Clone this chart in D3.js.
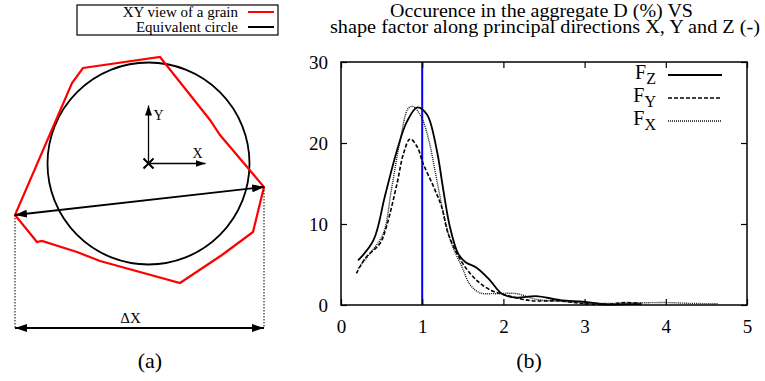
<!DOCTYPE html>
<html><head><meta charset="utf-8">
<script src="https://cdn.jsdelivr.net/npm/d3@7/dist/d3.min.js"></script>
<style>
html,body{margin:0;padding:0;background:#fff;}
svg{display:block;}
</style></head>
<body>
<svg id="c" width="765" height="381"></svg>
<script>
// ---------- Panel (b) data ----------
const xTicks = [0, 1, 2, 3, 4, 5];
const yTicks = [0, 10, 20, 30];
const titleLines = ["Occurence in the aggregate D (%) VS", "shape factor along principal directions X, Y and Z (-)"];
const seriesNames = ["Z", "Y", "X"];

const fzX = [0.21, 0.40, 0.54, 0.69, 0.81, 0.94, 1.06, 1.18, 1.26, 1.34, 1.44, 1.53, 1.67, 1.83, 1.98, 2.16, 2.40, 2.70, 2.98, 3.19, 3.31, 3.50, 3.70];
const fzY = [5.5, 8.0, 13.4, 19.1, 22.6, 24.4, 23.5, 19.1, 14.2, 9.7, 6.4, 5.3, 4.6, 3.1, 1.4, 0.9, 1.1, 0.6, 0.4, 0.15, 0.05, 0.1, 0.1];

const fyX = [0.19, 0.30, 0.48, 0.56, 0.69, 0.77, 0.85, 0.94, 1.01, 1.14, 1.24, 1.32, 1.47, 1.59, 1.71, 1.85, 2.00, 2.33, 2.70, 3.00, 3.30, 3.50, 3.70];
const fyY = [3.9, 5.8, 7.6, 9.7, 15.0, 18.7, 20.5, 19.5, 17.5, 14.6, 12.1, 8.8, 5.6, 3.9, 2.7, 1.8, 1.3, 0.55, 0.5, 0.15, 0.1, 0.3, 0.2];

const fxX = [0.21, 0.36, 0.52, 0.62, 0.73, 0.83, 0.89, 0.99, 1.08, 1.18, 1.28, 1.36, 1.49, 1.59, 1.71, 1.88, 2.16, 2.41, 2.80, 3.20, 3.60, 4.00, 4.30, 4.64];
const fxY = [4.5, 6.4, 8.8, 14.2, 20.4, 24.3, 24.5, 23.2, 20.4, 15.4, 10.5, 7.6, 4.7, 2.5, 1.5, 1.4, 1.4, 0.7, 0.4, 0.2, 0.25, 0.3, 0.2, 0.15];

const refLineX = [1];

// ---------- Panel (a) data (grain outline, units relative to circle centre, y up) ----------
const grainX = [-65.5, 11.5, 61.5, 71.5, 115.5, 104.5, 73.5, 31.5, -48.5, -71.5, -106.5, -111.5, -133.5, -76.5];
const grainY = [95.5, 106.5, 43.5, 28.5, -23.5, -68.5, -91.5, -119.5, -97.5, -88.5, -77.5, -78.5, -51.5, 80.5];
const circleR = [101];
const legendA = ["XY view of a grain", "Equivalent circle"];

const FONT = '"Liberation Serif"';
const svg = d3.select("#c");

// ---------- Panel (b) ----------
const x = d3.scaleLinear().domain([0, 5]).range([341, 747]);
const y = d3.scaleLinear().domain([0, 30]).range([305, 62]);

const gb = svg.append("g");
gb.selectAll("line.ref").data(refLineX).enter().append("line")
  .attr("x1", d => x(d)).attr("x2", d => x(d))
  .attr("y1", y(0)).attr("y2", y(30))
  .attr("stroke", "#0000ff").attr("stroke-width", 2);

const line = d3.line().x(d => x(d[0])).y(d => y(d[1])).curve(d3.curveCatmullRom.alpha(0.5));
const series = [
  {xs: fzX, ys: fzY, dash: null, w: 1.8, col: "#000"},
  {xs: fyX, ys: fyY, dash: "4,2", w: 1.6, col: "#000"},
  {xs: fxX, ys: fxY, dash: "1,1", w: 1.4, col: "#111"}
];
series.forEach(s => {
  gb.append("path").datum(d3.zip(s.xs, s.ys))
    .attr("d", line).attr("fill", "none")
    .attr("stroke", s.col).attr("stroke-width", s.w)
    .attr("stroke-dasharray", s.dash);
});

gb.append("rect").attr("x", x(0)).attr("y", y(30))
  .attr("width", x(5) - x(0)).attr("height", y(0) - y(30))
  .attr("fill", "none").attr("stroke", "#000").attr("stroke-width", 1.5);

const axB = d3.axisBottom(x).tickValues(xTicks).tickSize(-6).tickPadding(15).tickFormat(d3.format("d"));
const axT = d3.axisTop(x).tickValues(xTicks).tickSize(-6).tickFormat("");
const axL = d3.axisLeft(y).tickValues(yTicks).tickSize(-6).tickPadding(13).tickFormat(d3.format("d"));
const axR = d3.axisRight(y).tickValues(yTicks).tickSize(-6).tickFormat("");
function styleAx(g) {
  g.attr("font-size", 19);
  g.select(".domain").remove();
  g.selectAll("line").attr("stroke", "#000").attr("stroke-width", 1.2);
  g.selectAll("text").attr("fill", "#000");
}
gb.append("g").attr("transform", `translate(0,${y(0)})`).call(axB).call(styleAx);
gb.append("g").attr("transform", `translate(0,${y(30)})`).call(axT).call(styleAx);
gb.append("g").attr("transform", `translate(${x(0)},0)`).call(axL).call(styleAx);
gb.append("g").attr("transform", `translate(${x(5)},0)`).call(axR).call(styleAx);

const titleW = [303, 430];
gb.selectAll("text.title").data(titleLines).enter().append("text")
  .attr("x", (d, i) => [541.5, 545][i]).attr("y", (d, i) => 17 + i * 15.5)
  .attr("text-anchor", "middle").attr("font-size", 18)
  .attr("textLength", (d, i) => titleW[i]).attr("lengthAdjust", "spacingAndGlyphs")
  .text(d => d);

const legY = d3.scalePoint().domain(seriesNames).range([75, 121]);
series.forEach((s, i) => {
  const n = seriesNames[i];
  const t = gb.append("text").attr("x", 656).attr("y", legY(n) + 4)
    .attr("text-anchor", "end").attr("font-size", 20);
  t.append("tspan").text("F");
  t.append("tspan").attr("dy", 5).attr("font-size", 16).text(n);
  gb.append("line").attr("x1", 668).attr("x2", 722)
    .attr("y1", legY(n)).attr("y2", legY(n))
    .attr("stroke", s.col).attr("stroke-width", s.w).attr("stroke-dasharray", s.dash);
});

svg.append("text").attr("x", 529).attr("y", 368).attr("text-anchor", "middle")
  .attr("font-size", 22).text("(b)");

// ---------- Panel (a) ----------
const cx = 148.5, cy = 163.5;
const ax = d3.scaleLinear().domain([0, 1]).range([cx, cx + 1]);
const ay = d3.scaleLinear().domain([0, 1]).range([cy, cy - 1]);
const ga = svg.append("g");

const defs = svg.append("defs");
function marker(id, w, h) {
  defs.append("marker").attr("id", id).attr("viewBox", `0 0 ${w} ${h}`)
    .attr("refX", w).attr("refY", h / 2).attr("markerWidth", w).attr("markerHeight", h)
    .attr("markerUnits", "userSpaceOnUse").attr("orient", "auto-start-reverse")
    .append("path").attr("d", `M0,0L${w},${h / 2}L0,${h}Z`).attr("fill", "#000");
}
marker("ah", 12, 8);
marker("ahs", 10, 7);

ga.append("circle").attr("cx", ax(0)).attr("cy", ay(0)).attr("r", ax(circleR[0]) - ax(0))
  .attr("fill", "none").attr("stroke", "#000").attr("stroke-width", 1.8);

const pts = d3.zip(grainX, grainY);
ga.append("path").attr("d", d3.line().x(d => ax(d[0])).y(d => ay(d[1]))(pts) + "Z")
  .attr("fill", "none").attr("stroke", "#ff0000").attr("stroke-width", 2.2).attr("stroke-linejoin", "miter");

const iMin = d3.minIndex(grainX), iMax = d3.maxIndex(grainX);
const pL = pts[iMin], pR = pts[iMax];
const dimY = -164.5;
ga.append("line").attr("x1", ax(pL[0])).attr("y1", ay(pL[1])).attr("x2", ax(pR[0])).attr("y2", ay(pR[1]))
  .attr("stroke", "#000").attr("stroke-width", 1.8)
  .attr("marker-start", "url(#ah)").attr("marker-end", "url(#ah)");
[pL, pR].forEach(p => {
  ga.append("line").attr("x1", ax(p[0])).attr("x2", ax(p[0])).attr("y1", ay(p[1])).attr("y2", ay(dimY))
    .attr("stroke", "#000").attr("stroke-width", 1).attr("stroke-dasharray", "1.5,1.5");
});
ga.append("line").attr("x1", ax(pL[0])).attr("x2", ax(pR[0])).attr("y1", ay(dimY)).attr("y2", ay(dimY))
  .attr("stroke", "#000").attr("stroke-width", 1.8)
  .attr("marker-start", "url(#ah)").attr("marker-end", "url(#ah)");
ga.append("text").attr("x", (ax(pL[0]) + ax(pR[0])) / 2 - 9).attr("y", ay(dimY) - 5)
  .attr("text-anchor", "middle").attr("font-size", 15).text("ΔX");

ga.append("line").attr("x1", ax(0)).attr("y1", ay(0)).attr("x2", ax(0)).attr("y2", ay(58))
  .attr("stroke", "#000").attr("stroke-width", 1.3).attr("marker-end", "url(#ahs)");
ga.append("line").attr("x1", ax(0)).attr("y1", ay(0)).attr("x2", ax(57)).attr("y2", ay(0))
  .attr("stroke", "#000").attr("stroke-width", 1.3).attr("marker-end", "url(#ahs)");
ga.append("path").attr("d", `M${ax(-5)},${ay(5)}L${ax(5)},${ay(-5)}M${ax(-5)},${ay(-5)}L${ax(5)},${ay(5)}`)
  .attr("stroke", "#000").attr("stroke-width", 2);
ga.append("text").attr("x", ax(5)).attr("y", ay(44)).attr("font-size", 14).text("Y");
ga.append("text").attr("x", ax(44)).attr("y", ay(6)).attr("font-size", 14).text("X");

ga.append("rect").attr("x", 77).attr("y", 5).attr("width", 201).attr("height", 30)
  .attr("fill", "none").attr("stroke", "#000").attr("stroke-width", 1.2);
const legCol = ["#ff0000", "#000"];
legendA.forEach((t, i) => {
  ga.append("text").attr("x", 238).attr("y", 17 + i * 15).attr("text-anchor", "end")
    .attr("font-size", 15).text(t);
  ga.append("line").attr("x1", 248).attr("x2", 274).attr("y1", 12 + i * 15).attr("y2", 12 + i * 15)
    .attr("stroke", legCol[i]).attr("stroke-width", 2);
});

svg.append("text").attr("x", 150).attr("y", 368).attr("text-anchor", "middle")
  .attr("font-size", 22).text("(a)");

svg.selectAll("text").style("font-family", FONT);
svg.selectAll("g").style("font-family", FONT);
</script>
</body></html>
